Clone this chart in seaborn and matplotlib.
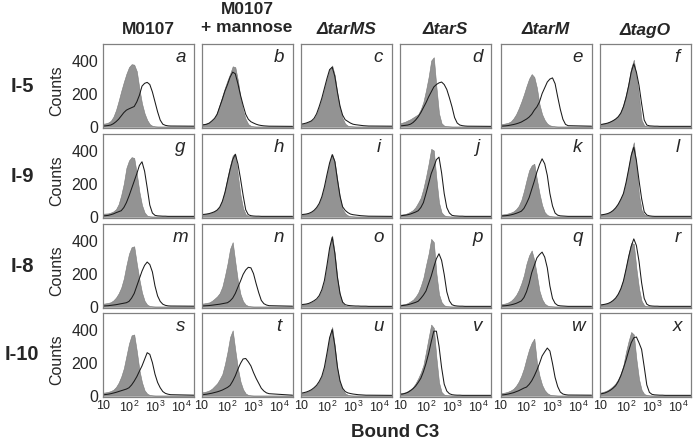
import numpy as np
import pandas as pd
import seaborn as sns
import matplotlib.pyplot as plt
from matplotlib.ticker import NullFormatter, LogLocator

sns.set_style("white")
plt.rcParams['font.family'] = ['Liberation Sans', 'DejaVu Sans']
plt.rcParams['mathtext.fontset'] = 'custom'
plt.rcParams['mathtext.rm'] = 'Liberation Sans'
plt.rcParams['mathtext.it'] = 'Liberation Sans:italic'
plt.rcParams['mathtext.bf'] = 'Liberation Sans:bold'

# column / row labels
strains = ["M0107", "M0107\n+ mannose", "ΔtarMS", "ΔtarS", "ΔtarM", "ΔtagO"]
sera = ["I-5", "I-9", "I-8", "I-10"]
letters = "abcdefghijklmnopqrstuvwx"

log_bins = [1.0, 1.1, 1.2, 1.3, 1.4, 1.5, 1.6, 1.7, 1.8, 1.9,
            2.0, 2.1, 2.2, 2.3, 2.4, 2.5, 2.6, 2.7, 2.8, 2.9,
            3.0, 3.1, 3.2, 3.3, 3.4, 3.5, 3.6, 4.5]

# row I-5
a_gray = [18,20,25,35,60,100,155,215,270,320, 360,378,375,335,230,140,80,40,15,5, 2,1,1,1,1,1,1,1]
a_open = [4,5,7,10,18,30,45,65,85,100, 108,115,122,150,190,245,262,268,255,210, 150,90,40,15,8,5,4,3]
b_gray = [15,16,20,25,35,50,85,135,185,235, 280,320,365,360,280,175,95,45,15,5, 2,1,1,1,1,1,1,1]
b_open = [10,12,15,22,35,50,75,120,165,215, 255,300,330,320,260,190,130,75,45,30, 22,15,10,7,5,4,3,2]
c_gray = [15,18,22,28,35,48,75,120,170,230, 290,345,370,310,200,110,50,18,6,3, 2,1,1,1,1,1,1,1]
c_open = [15,18,22,28,35,50,78,122,172,232, 292,345,360,305,210,125,70,42,32,22, 15,12,10,8,6,5,4,3]
d_gray = [20,25,30,38,45,55,65,75,105,150, 220,300,400,420,240,80,20,6,3,2, 1,1,1,1,1,1,1,1]
d_open = [5,6,8,10,15,25,40,60,85,115, 145,180,210,240,255,265,270,255,225,175, 120,55,22,10,6,4,3,2]
e_gray = [15,17,20,24,32,50,75,110,150,195, 245,290,318,300,235,135,75,40,18,8, 4,2,1,1,1,1,1,1]
e_open = [3,4,5,7,10,13,17,22,28,37, 46,58,75,100,120,150,200,235,270,288, 295,260,180,105,45,14,6,3]
f_gray = [15,18,20,25,32,40,50,65,90,135, 195,270,355,405,300,180,40,8,3,2, 1,1,1,1,1,1,1,1]
f_open = [12,15,18,22,28,36,46,60,82,120, 175,245,330,380,330,250,140,40,10,5, 4,3,3,2,2,2,2,2]

# row I-9
g_gray = [18,19,20,25,32,45,75,130,200,295, 340,360,355,260,150,70,25,6,2,1, 1,1,1,1,1,1,1,1]
g_open = [5,6,8,12,17,24,30,36,55,85, 125,170,215,260,310,332,275,175,70,22, 8,5,4,3,3,2,2,2]
h_gray = [15,16,18,20,25,33,42,60,100,160, 240,310,370,380,250,130,50,14,4,2, 1,1,1,1,1,1,1,1]
h_open = [12,14,16,19,24,30,40,58,92,145, 215,285,345,378,320,230,130,42,12,6, 4,3,3,2,2,2,2,2]
i_gray = [12,14,16,20,27,38,55,80,120,180, 255,330,380,330,220,115,45,20,8,3, 2,1,1,1,1,1,1,1]
i_open = [12,14,16,20,27,38,55,80,120,180, 255,325,375,335,225,125,60,38,25,16, 12,10,8,6,5,4,3,2]
j_gray = [12,14,16,22,30,40,58,85,115,170, 240,320,410,400,230,85,25,8,3,2, 1,1,1,1,1,1,1,1]
j_open = [5,7,9,12,16,22,28,36,55,85, 140,200,260,300,345,360,265,140,55,22, 8,5,4,3,3,2,2,2]
k_gray = [12,14,16,20,25,32,45,65,100,155, 220,280,310,320,225,140,70,27,10,4, 2,1,1,1,1,1,1,1]
k_open = [4,5,6,8,11,15,20,26,33,50, 80,115,165,215,270,315,350,320,250,140, 65,22,9,5,4,3,2,2]
l_gray = [12,14,16,20,28,40,57,80,110,145, 215,300,390,450,310,130,40,14,4,2, 1,1,1,1,1,1,1,1]
l_open = [10,12,15,19,26,37,53,75,105,140, 205,285,370,420,340,220,110,30,10,5, 3,2,2,2,2,2,2,2]

# row I-8
m_gray = [18,20,23,27,38,55,80,115,170,250, 320,360,365,260,165,85,35,12,4,2, 1,1,1,1,1,1,1,1]
m_open = [4,5,6,8,10,12,15,18,21,24, 32,52,80,125,170,215,250,270,255,210, 125,65,32,15,8,5,4,3]
n_gray = [18,20,23,26,35,48,62,82,120,185, 260,350,390,270,155,75,32,12,4,2, 1,1,1,1,1,1,1,1]
n_open = [4,5,6,7,9,11,13,15,18,21, 24,35,52,80,118,155,195,222,238,235, 200,140,85,38,18,10,6,3]
o_gray = [12,14,16,20,26,35,45,65,100,155, 250,360,430,320,170,70,20,6,3,2, 1,1,1,1,1,1,1,1]
o_open = [12,14,16,20,27,36,47,67,102,158, 252,355,420,325,180,80,28,12,8,6, 5,4,4,3,3,3,2,2]
p_gray = [12,14,16,22,32,42,60,85,125,175, 250,320,410,390,200,75,27,8,3,2, 1,1,1,1,1,1,1,1]
p_open = [5,7,9,12,16,21,26,33,50,70, 95,140,185,240,290,320,280,195,90,35, 12,6,4,3,3,2,2,2]
q_gray = [15,17,20,26,35,50,70,100,140,190, 260,310,340,280,190,95,45,18,7,3, 2,1,1,1,1,1,1,1]
q_open = [4,5,6,8,11,15,20,27,35,55, 90,140,205,250,295,315,330,300,235,125, 50,20,8,5,4,3,2,2]
r_gray = [12,14,16,20,28,40,55,80,115,165, 240,320,385,380,230,110,35,8,3,2, 1,1,1,1,1,1,1,1]
r_open = [10,12,15,19,26,37,52,75,108,155, 225,300,365,410,370,275,145,50,15,6, 4,3,3,2,2,2,2,2]

# row I-10
s_gray = [18,20,23,28,36,52,78,115,165,240, 315,365,370,270,155,80,32,12,4,2, 1,1,1,1,1,1,1,1]
s_open = [5,7,9,12,16,20,25,30,35,40, 48,65,88,115,148,180,220,260,250,200, 130,80,48,25,14,9,6,3]
t_gray = [20,22,26,32,42,58,74,100,130,190, 265,355,395,275,165,85,38,13,4,2, 1,1,1,1,1,1,1,1]
t_open = [5,7,9,12,15,19,23,28,34,42, 50,62,88,120,160,195,222,225,205,180, 140,105,75,45,28,17,12,3]
u_gray = [15,18,22,28,36,48,62,85,115,170, 260,360,415,300,160,75,35,14,5,2, 1,1,1,1,1,1,1,1]
u_open = [15,18,22,28,36,48,63,86,117,172, 258,350,400,305,175,90,45,25,17,13, 10,8,6,5,4,3,3,2]
v_gray = [15,17,20,28,38,52,75,105,140,185, 265,350,430,410,230,80,22,6,3,2, 1,1,1,1,1,1,1,1]
v_open = [8,10,14,20,30,42,58,80,105,145, 195,255,325,390,390,300,170,70,28,12, 6,4,3,3,2,2,2,2]
w_gray = [15,17,20,25,32,42,60,85,120,165, 225,280,320,345,200,120,65,33,15,6, 3,2,1,1,1,1,1,1]
w_open = [4,5,7,10,14,18,24,30,38,46, 52,68,90,120,155,195,240,265,288,270, 195,110,55,22,10,6,4,3]
x_gray = [18,22,27,34,45,58,75,100,135,185, 265,330,385,370,220,100,35,10,4,2, 1,1,1,1,1,1,1,1]
x_open = [10,13,17,24,33,45,60,85,120,165, 215,270,320,350,355,320,280,175,65,20, 8,5,4,3,3,2,2,2]

gray_all = [a_gray, b_gray, c_gray, d_gray, e_gray, f_gray,
            g_gray, h_gray, i_gray, j_gray, k_gray, l_gray,
            m_gray, n_gray, o_gray, p_gray, q_gray, r_gray,
            s_gray, t_gray, u_gray, v_gray, w_gray, x_gray]
open_all = [a_open, b_open, c_open, d_open, e_open, f_open,
            g_open, h_open, i_open, j_open, k_open, l_open,
            m_open, n_open, o_open, p_open, q_open, r_open,
            s_open, t_open, u_open, v_open, w_open, x_open]

W, H = 693, 440
fig = plt.figure(figsize=(W / 100, H / 100), dpi=100)

col_x = [103, 201.5, 301, 400, 500.5, 600]
row_y = [44, 134, 224, 313]
pw, ph = 91, 84
GRAY = "#939393"
SPINE = "#808080"

for r in range(4):
    for c in range(6):
        k = r * 6 + c
        ax = fig.add_axes([col_x[c] / W, 1 - (row_y[r] + ph) / H, pw / W, ph / H])
        df = pd.DataFrame({"fl": 10 ** np.array(log_bins),
                           "gray": gray_all[k], "open": open_all[k]})
        ax.fill_between(df["fl"], df["gray"], color=GRAY, lw=0.4, edgecolor="#7a7a7a")
        sns.lineplot(data=df, x="fl", y="open", ax=ax, color="#1a1a1a", lw=0.75)
        ax.set_xscale("log")
        ax.set_xlim(10, 10 ** 4.5)
        ax.set_ylim(-8, 500)
        ax.set_xlabel("")
        ax.set_ylabel("")
        for sp in ax.spines.values():
            sp.set_color(SPINE)
            sp.set_linewidth(0.9)

        ax.set_yticks([0, 200, 400])
        ax.tick_params(axis="y", direction="out", length=2.5, width=0.8,
                       color=SPINE, labelsize=11.5, pad=1)
        if c != 0:
            ax.set_yticklabels([])

        ax.set_xticks([10, 100, 1000, 10000])
        ax.xaxis.set_minor_locator(LogLocator(base=10, subs=np.arange(2, 10), numticks=10))
        ax.xaxis.set_minor_formatter(NullFormatter())
        ax.tick_params(axis="x", which="major", direction="in", length=3, width=0.7, color="#555555")
        ax.tick_params(axis="x", which="minor", direction="in", length=1.8, width=0.5, color="#555555")
        if r == 3:
            ax.set_xticklabels(["10", "10$^{2}$", "10$^{3}$", "10$^{4}$"], fontsize=9)
            ax.tick_params(axis="x", pad=2)
        else:
            ax.set_xticklabels([])

        ax.text(0.85, 0.845, letters[k], transform=ax.transAxes, ha="center", va="center",
                fontsize=13.5, style="italic")

# column headings
for c, name in enumerate(strains):
    cx = (col_x[c] + pw / 2) / W
    if "\n" in name:
        fig.text(cx, 1 - 19 / H, name, ha="center", va="center", fontsize=12.5,
                 fontweight="bold", linespacing=1.25)
    else:
        fig.text(cx, 1 - 30 / H, name, ha="center", va="center", fontsize=12.5,
                 fontweight="bold", style="italic" if name.startswith("Δ") else "normal")

# row headings
for r, name in enumerate(sera):
    cy = 1 - (row_y[r] + ph / 2) / H
    fig.text(22 / W, cy, name, ha="center", va="center", fontsize=14.5, fontweight="bold")
    fig.text(57 / W, cy - 5 / H, "Counts", ha="center", va="center", fontsize=11.5, rotation=90)

fig.text(395 / W, 1 - 432 / H, "Bound C3", ha="center", va="center", fontsize=13.5, fontweight="bold")

fig.savefig("out.png", dpi=100)
